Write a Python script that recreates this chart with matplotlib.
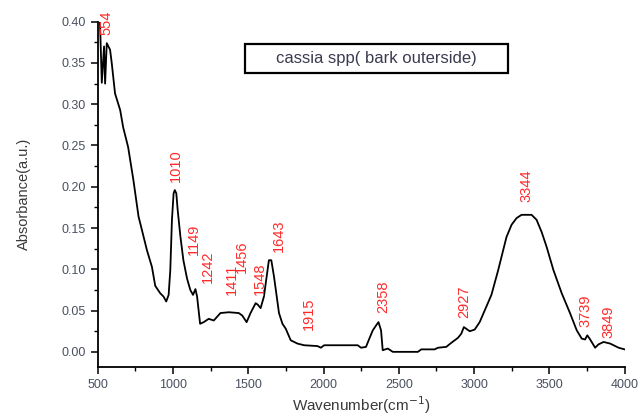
import matplotlib
matplotlib.use("Agg")
import matplotlib.pyplot as plt
from matplotlib.patches import Rectangle
from matplotlib.ticker import MultipleLocator

plt.rcParams['font.family'] = ['Liberation Sans', 'DejaVu Sans']

# spectrum
wavenumber = [515, 527, 542, 549, 560, 582, 593, 615, 649, 669, 702, 737, 771, 793,
              827, 860, 882, 915, 937, 955, 971, 982, 993, 1004, 1012, 1022, 1031,
              1049, 1069, 1093, 1115, 1133, 1149, 1160, 1180, 1204, 1237, 1271, 1315,
              1371, 1437, 1460, 1489, 1515, 1549, 1564, 1582, 1604, 1622, 1637, 1653,
              1671, 1689, 1704, 1727, 1749, 1782, 1827, 1871, 1960, 1982, 2004, 2227,
              2249, 2282, 2304, 2327, 2349, 2365, 2382, 2393, 2427, 2460, 2627, 2649,
              2738, 2760, 2815, 2849, 2893, 2915, 2932, 2971, 3004, 3037, 3082, 3115,
              3160, 3193, 3215, 3249, 3282, 3315, 3382, 3415, 3449, 3482, 3527, 3582,
              3637, 3682, 3715, 3737, 3752, 3771, 3804, 3826, 3860, 3904, 3960, 4000]
absorbance = [0.400, 0.326, 0.370, 0.325, 0.374, 0.366, 0.350, 0.313, 0.293, 0.272,
              0.248, 0.208, 0.164, 0.148, 0.123, 0.103, 0.080, 0.071, 0.067, 0.061,
              0.069, 0.099, 0.160, 0.192, 0.196, 0.192, 0.172, 0.140, 0.111, 0.089,
              0.075, 0.069, 0.076, 0.067, 0.034, 0.036, 0.040, 0.038, 0.047, 0.048,
              0.047, 0.044, 0.036, 0.047, 0.059, 0.057, 0.053, 0.067, 0.091, 0.111,
              0.111, 0.091, 0.067, 0.047, 0.034, 0.028, 0.014, 0.010, 0.008, 0.007,
              0.005, 0.008, 0.008, 0.005, 0.006, 0.016, 0.026, 0.032, 0.036, 0.026,
              0.002, 0.004, 0.000, 0.000, 0.003, 0.003, 0.005, 0.006, 0.011, 0.017,
              0.022, 0.030, 0.025, 0.027, 0.036, 0.055, 0.069, 0.099, 0.123, 0.139,
              0.154, 0.162, 0.166, 0.166, 0.160, 0.145, 0.127, 0.099, 0.071, 0.047,
              0.026, 0.016, 0.015, 0.020, 0.015, 0.005, 0.009, 0.012, 0.010, 0.005,
              0.003]

# peak labels and where they sit
peak_labels = ["554", "1010", "1149", "1242", "1411", "1456", "1548", "1643", "1915",
               "2358", "2927", "3344", "3739", "3849"]
label_x = [560, 1020, 1140, 1230, 1390, 1456, 1580, 1700, 1900, 2395, 2935, 3345,
           3742, 3895]
label_y = [0.384, 0.206, 0.117, 0.084, 0.069, 0.095, 0.069, 0.121, 0.026, 0.047,
           0.041, 0.181, 0.030, 0.017]

fig = plt.figure(figsize=(6.4, 4.17), dpi=100)
ax = fig.add_axes([0.1527, 0.1206, 0.8233, 0.8274])

ax.plot(wavenumber, absorbance, color='black', lw=1.3)

for txt, x, y in zip(peak_labels, label_x, label_y):
    ax.text(x, y, txt, rotation=90, color='#ff2a2a', fontsize=10.5,
            ha='center', va='bottom', clip_on=False)

ax.set_xlim(500, 4000)
ax.set_ylim(-0.018, 0.40)
ax.xaxis.set_major_locator(MultipleLocator(500))
ax.xaxis.set_minor_locator(MultipleLocator(250))
ax.yaxis.set_major_locator(MultipleLocator(0.05))
ax.yaxis.set_minor_locator(MultipleLocator(0.025))
ax.set_yticks([0, 0.05, 0.10, 0.15, 0.20, 0.25, 0.30, 0.35, 0.40])
ax.set_yticklabels(['0.00', '0.05', '0.10', '0.15', '0.20', '0.25', '0.30', '0.35', '0.40'])

for side in ['top', 'right']:
    ax.spines[side].set_visible(False)
for side in ['left', 'bottom']:
    ax.spines[side].set_linewidth(1.3)

ax.tick_params(which='major', length=5, width=1.1, labelsize=9, labelcolor='#4a5060')
ax.tick_params(which='minor', length=3, width=1.0)

ax.set_xlabel('Wavenumber(cm$^{-1}$)', fontsize=11, color='#3a3a3a', labelpad=3)
ax.set_ylabel('Absorbance(a.u.)', fontsize=10.5, color='#3a3a3a', labelpad=22)

# title box
ax.add_patch(Rectangle((0.2795, 0.851), 0.499, 0.084, transform=ax.transAxes,
                       fill=False, edgecolor='black', lw=1.6))
ax.text(0.529, 0.893, 'cassia spp( bark outerside)', transform=ax.transAxes,
        ha='center', va='center', fontsize=12, color='#3a3a50')

fig.savefig('out.png', dpi=100)
